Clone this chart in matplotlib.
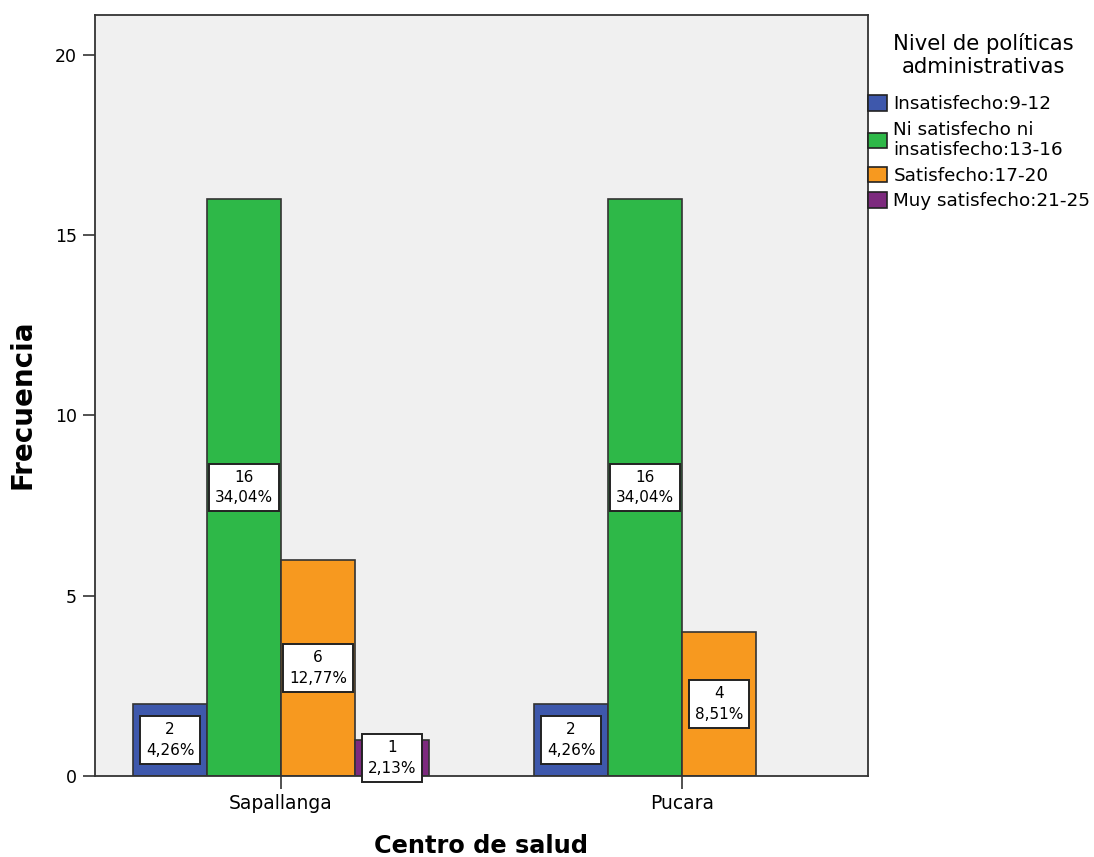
import matplotlib
matplotlib.use("Agg")
import matplotlib.pyplot as plt
from matplotlib.patches import Patch
import numpy as np

# Frequencies per health centre and satisfaction level
centros = ["Sapallanga", "Pucara"]
niveles = [
    "Insatisfecho:9-12",
    "Ni satisfecho ni\ninsatisfecho:13-16",
    "Satisfecho:17-20",
    "Muy satisfecho:21-25",
]
insatisfecho = [2, 2]
ni_satisfecho = [16, 16]
satisfecho = [6, 4]
muy_satisfecho = [1, 0]
colores = ["#3E58AC", "#2EB848", "#F7991F", "#7D2A7E"]

series = [insatisfecho, ni_satisfecho, satisfecho, muy_satisfecho]
total = sum(sum(s) for s in series)

plt.rcParams["font.family"] = ["DejaVu Sans"]

fig = plt.figure(figsize=(10.94, 8.57), dpi=100)
ax = fig.add_axes([95 / 1094, 1 - 776 / 857, (868 - 95) / 1094, (776 - 15) / 857])
ax.set_facecolor("#F0F0F0")

x = np.arange(len(centros))
w = 0.1845
offsets = [-1.5 * w, -0.5 * w, 0.5 * w, 1.5 * w]

for serie, off, col in zip(series, offsets, colores):
    for xi, v in zip(x, serie):
        if v <= 0:
            continue
        ax.bar(xi + off, v, width=w, color=col, edgecolor="#333333",
               linewidth=1.2, zorder=2)
        pct = f"{v / total * 100:.2f}".replace(".", ",") + "%"
        ax.text(xi + off, v / 2, f"{v}\n{pct}", ha="center", va="center",
                fontsize=11, linespacing=1.45, zorder=4, clip_on=False,
                bbox=dict(boxstyle="square,pad=0.4", facecolor="white",
                          edgecolor="#222222", linewidth=1.4))

ax.set_xlim(-0.464, 1.464)
ax.set_ylim(0, 21.1)
ax.set_yticks([0, 5, 10, 15, 20])
ax.set_xticks(x)
ax.set_xticklabels(centros)
ax.tick_params(axis="both", length=9, width=1.2, color="#333333", pad=4)
ax.tick_params(axis="x", labelsize=13.5)
ax.tick_params(axis="y", labelsize=12.5)
for sp in ax.spines.values():
    sp.set_color("#333333")
    sp.set_linewidth(1.3)

ax.set_xlabel("Centro de salud", fontsize=17.3, fontweight="bold", labelpad=15)
ax.set_ylabel("Frecuencia", fontsize=20, fontweight="bold", labelpad=13)
ax.yaxis.label.set_y(0.488)

# Legend title and entries
fig.text(983 / 1094, 1 - 55 / 857, "Nivel de políticas\nadministrativas",
         ha="center", va="center", fontsize=15.2, linespacing=1.15)

handles = [Patch(facecolor=c, edgecolor="#222222", linewidth=1.2) for c in colores]
leg = ax.legend(handles, niveles, loc="upper left",
                bbox_to_anchor=(1.0, (776 - 95) / 761), frameon=False,
                fontsize=13.2, handlelength=1.05, handleheight=0.93,
                handletextpad=0.33, labelspacing=0.42,
                borderpad=0, borderaxespad=0)
for t in leg.get_texts():
    t.set_linespacing(1.15)

fig.savefig("out.png", dpi=100, facecolor="white")
